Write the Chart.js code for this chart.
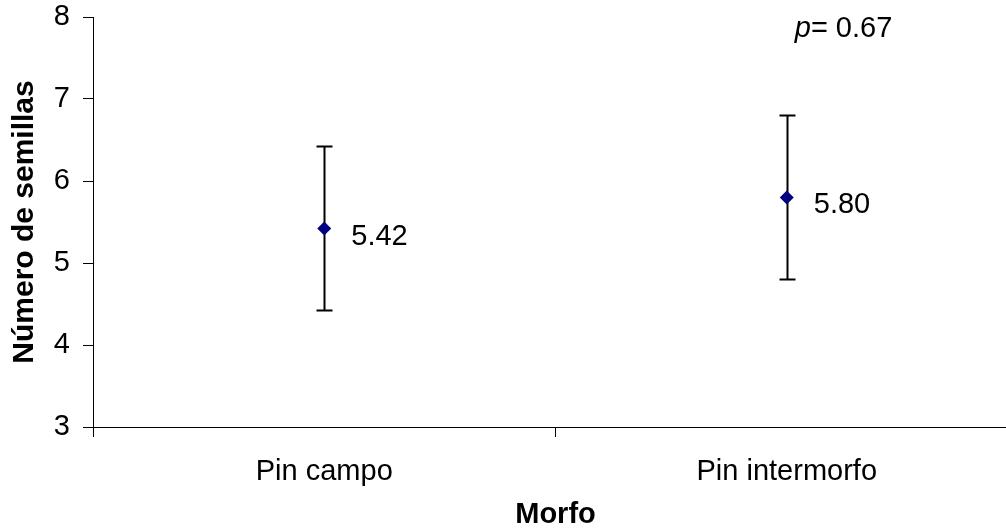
<!DOCTYPE html>
<html>
<head>
<meta charset="utf-8">
<script src="https://cdn.jsdelivr.net/npm/chart.js@4.4.1/dist/chart.umd.min.js"></script>
<style>
html, body { margin: 0; padding: 0; overflow: hidden; background: #fff; }
/* a bit wider than the window so the x axis runs off the right edge like the original */
#wrap { width: 1025px; height: 530px; }
</style>
</head>
<body>
<div id="wrap"><canvas id="morfoChart"></canvas></div>
<script>
// Data
const categories = ['Pin campo', 'Pin intermorfo'];
const means = [5.42, 5.80];
const errors = [1.0, 1.0];
const meanLabels = ['5.42', '5.80'];
const pValue = '0.67';
const yMin = 3;
const yMax = 8;
const yStep = 1;

const FONT = "'Liberation Sans', Arial, sans-serif";
const FONT_SIZE = 29;

// Error bars drawn behind the markers
const errorBarPlugin = {
    id: 'errorBars',
    beforeDatasetsDraw(chart) {
        const ctx = chart.ctx;
        const xScale = chart.scales.x;
        const yScale = chart.scales.y;
        ctx.save();
        ctx.strokeStyle = '#000';
        ctx.lineWidth = 2;
        means.forEach((m, i) => {
            const x = Math.round(xScale.getPixelForValue(i)) + 0.5;
            const yTop = yScale.getPixelForValue(m + errors[i]);
            const yBot = yScale.getPixelForValue(m - errors[i]);
            ctx.beginPath();
            ctx.moveTo(x, yTop);
            ctx.lineTo(x, yBot);
            ctx.moveTo(x - 8, yTop);
            ctx.lineTo(x + 8, yTop);
            ctx.moveTo(x - 8, yBot);
            ctx.lineTo(x + 8, yBot);
            ctx.stroke();
        });
        ctx.restore();
    }
};

// Value labels next to each mean + the p value
const labelPlugin = {
    id: 'valueLabels',
    afterDatasetsDraw(chart) {
        const ctx = chart.ctx;
        const xScale = chart.scales.x;
        const yScale = chart.scales.y;
        ctx.save();
        ctx.fillStyle = '#000';
        ctx.font = FONT_SIZE + 'px ' + FONT;
        ctx.textAlign = 'left';
        ctx.textBaseline = 'middle';
        means.forEach((m, i) => {
            const x = xScale.getPixelForValue(i);
            const y = yScale.getPixelForValue(m);
            ctx.fillText(meanLabels[i], x + 27, y + 8);
        });

        // "p= 0.67" in the top right
        const px = xScale.getPixelForValue(1) + 8;
        const py = chart.chartArea.top + 12;
        ctx.font = 'italic ' + FONT_SIZE + 'px ' + FONT;
        ctx.fillText('p', px, py);
        const w = ctx.measureText('p').width;
        ctx.font = FONT_SIZE + 'px ' + FONT;
        ctx.fillText('= ' + pValue, px + w, py);
        ctx.restore();
    }
};

const ctx = document.getElementById('morfoChart').getContext('2d');
const morfoChart = new Chart(ctx, {
    type: 'line',
    data: {
        labels: categories,
        datasets: [{
            data: means,
            showLine: false,
            pointStyle: 'rectRot',
            pointRadius: 7,
            pointHoverRadius: 7,
            pointBackgroundColor: '#000080',
            pointBorderColor: '#000080',
            pointBorderWidth: 0
        }]
    },
    options: {
        responsive: true,
        maintainAspectRatio: false,
        animation: false,
        layout: { padding: { top: 17, right: 2, bottom: 0, left: 0 } },
        plugins: {
            legend: { display: false },
            tooltip: { enabled: false }
        },
        scales: {
            x: {
                type: 'category',
                offset: true,
                grid: {
                    offset: true,
                    drawOnChartArea: false,
                    drawTicks: true,
                    tickLength: 10,
                    color: '#000',
                    lineWidth: 1
                },
                border: { display: true, color: '#000', width: 1 },
                ticks: {
                    color: '#000',
                    padding: 18,
                    font: { family: FONT, size: FONT_SIZE }
                },
                title: {
                    display: true,
                    text: 'Morfo',
                    color: '#000',
                    padding: { top: 0, bottom: 1 },
                    font: { family: FONT, size: FONT_SIZE, weight: 'bold', lineHeight: 1 }
                },
                afterFit(scale) {
                    scale.height = 103;
                    scale.paddingLeft = 0;
                    scale.paddingRight = 0;
                }
            },
            y: {
                min: yMin,
                max: yMax,
                grid: {
                    drawOnChartArea: false,
                    drawTicks: true,
                    tickLength: 10,
                    color: '#000',
                    lineWidth: 1
                },
                border: { display: true, color: '#000', width: 1 },
                ticks: {
                    stepSize: yStep,
                    color: '#000',
                    padding: 13,
                    font: { family: FONT, size: FONT_SIZE }
                },
                title: {
                    display: true,
                    text: 'Número de semillas',
                    color: '#000',
                    padding: { top: 10, bottom: 0 },
                    font: { family: FONT, size: 30, weight: 'bold', lineHeight: 1 }
                },
                afterFit(scale) {
                    scale.width = 93;
                    scale.paddingTop = 0;
                    scale.paddingBottom = 0;
                }
            }
        }
    },
    plugins: [errorBarPlugin, labelPlugin]
});
</script>
</body>
</html>
